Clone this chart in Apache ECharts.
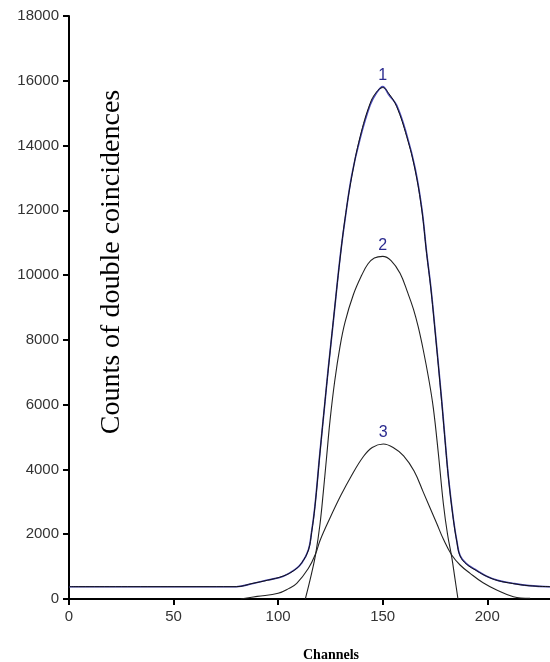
<!DOCTYPE html>
<html>
<head>
<meta charset="utf-8">
<script src="https://cdn.jsdelivr.net/npm/echarts@6/dist/echarts.min.js"></script>
<style>
  html, body { margin: 0; padding: 0; background: #fff; }
  #chart { width: 550px; height: 662px; }
</style>
</head>
<body>
<div id="chart"></div>
<script>
  // 曲线 1：拟合（黑）与测量（蓝）
  const ch1 = [0, 80, 88, 95, 102.5, 108, 111.3, 114.5, 116, 117.6, 120, 122.4, 124, 126.4, 129.6, 132, 135.2, 139.2, 144, 147, 150, 153, 156.7, 161.5, 165.5, 168.7, 171, 173, 175, 178.2, 179.8, 181.5, 183.8, 185.5, 187, 190, 195, 199.7, 205, 212, 220, 230]
  const fit1 = [380, 380, 485, 580, 710, 900, 1120, 1513, 2050, 2850, 4500, 6100, 7100, 8600, 10500, 11750, 13039, 14273, 15305, 15650, 15790, 15600, 15199, 14273, 13245, 12010, 10673, 9600, 8300, 6100, 4900, 3700, 2450, 1750, 1330, 1080, 870, 700, 570, 480, 410, 380]
  const meas1 = [380, 380, 480, 585, 705, 905, 1110, 1520, 2070, 2870, 4530, 6080, 7140, 8570, 10530, 11720, 13080, 14220, 15250, 15620, 15820, 15560, 15240, 14330, 13300, 12060, 10700, 9640, 8340, 6140, 4940, 3720, 2470, 1770, 1340, 1090, 880, 705, 575, 485, 412, 380]
  // 曲线 2
  const ch2 = [113, 116, 118, 120, 121.6, 123.2, 124.8, 127, 129.6, 132, 136, 140, 143, 146, 150, 154, 158.3, 162, 164.7, 167, 169.4, 172, 174.2, 176.6, 179, 181, 183, 184.5, 186]
  const val2 = [0, 790, 1410, 2300, 3300, 4400, 5500, 6700, 7800, 8550, 9400, 10000, 10350, 10530, 10580, 10450, 10056, 9450, 8950, 8400, 7688, 6800, 5900, 4500, 2950, 2000, 1300, 650, 0]
  // 曲线 3
  const ch3 = [82, 90, 100, 105, 108.9, 114.5, 118, 120, 124.8, 130, 135, 140.7, 145, 150.3, 155, 160, 165, 169.4, 175.8, 179, 183, 187, 191.8, 198, 204.5, 212.5, 220.5]
  const val3 = [0, 80, 175, 320, 485, 948, 1410, 1800, 2500, 3200, 3800, 4393, 4680, 4786, 4680, 4420, 3950, 3300, 2337, 1850, 1358, 1050, 793, 500, 278, 71, 20]
  const peakLabels = ['1', '2', '3']

  const pairs = (xs, ys) => xs.map((x, i) => [x, ys[i]])

  const chart = echarts.init(document.getElementById('chart'))
  const lineBase = {
    type: 'line',
    showSymbol: false,
    smooth: 0.4,
    silent: true
  }
  const peakMark = (txt) => ({
    symbol: 'circle',
    symbolSize: 0,
    silent: true,
    data: [{ type: 'max' }],
    label: {
      show: true,
      position: 'top',
      distance: 3,
      formatter: txt,
      color: '#2b2b8f',
      fontSize: 16,
      fontFamily: 'Liberation Sans, Arial'
    }
  })
  const tickLabel = {
    color: '#333',
    fontSize: 15,
    fontFamily: 'Liberation Sans, Arial',
    margin: 10,
    formatter: (v) => String(v)
  }

  const option = {
    animation: false,
    grid: { left: 69, right: 0, top: 16, bottom: 63 },
    xAxis: {
      type: 'value',
      min: 0,
      max: 230,
      interval: 50,
      axisLine: { show: true, lineStyle: { color: '#000', width: 2 } },
      axisTick: { show: true, length: 6, lineStyle: { color: '#000', width: 2 } },
      axisLabel: Object.assign({ showMaxLabel: false }, tickLabel),
      splitLine: { show: false }
    },
    yAxis: {
      type: 'value',
      min: 0,
      max: 18000,
      interval: 2000,
      axisLine: { show: true, lineStyle: { color: '#000', width: 2 } },
      axisTick: { show: true, length: 6, lineStyle: { color: '#000', width: 2 } },
      axisLabel: tickLabel,
      splitLine: { show: false }
    },
    graphic: [
      {
        type: 'text',
        x: 112,
        y: 262,
        rotation: Math.PI / 2,
        style: {
          text: 'Counts of double coincidences',
          fontFamily: 'Liberation Serif, Times New Roman',
          fontSize: 28,
          fill: '#000',
          textAlign: 'center',
          textVerticalAlign: 'middle'
        }
      },
      {
        type: 'text',
        x: 331,
        y: 655,
        style: {
          text: 'Channels',
          fontFamily: 'Liberation Serif, Times New Roman',
          fontWeight: 'bold',
          fontSize: 14,
          fill: '#000',
          textAlign: 'center',
          textVerticalAlign: 'middle'
        }
      }
    ],
    series: [
      Object.assign({}, lineBase, {
        name: 'meas1',
        data: pairs(ch1, meas1),
        lineStyle: { color: '#4a4ab8', width: 1.6 },
        markPoint: peakMark(peakLabels[0])
      }),
      Object.assign({}, lineBase, {
        name: 'fit1',
        data: pairs(ch1, fit1),
        lineStyle: { color: '#111', width: 1 }
      }),
      Object.assign({}, lineBase, {
        name: 'c2',
        data: pairs(ch2, val2),
        lineStyle: { color: '#222', width: 1.1 },
        markPoint: peakMark(peakLabels[1])
      }),
      Object.assign({}, lineBase, {
        name: 'c3',
        data: pairs(ch3, val3),
        lineStyle: { color: '#222', width: 1.1 },
        markPoint: peakMark(peakLabels[2])
      })
    ]
  }
  chart.setOption(option)
</script>
</body>
</html>
